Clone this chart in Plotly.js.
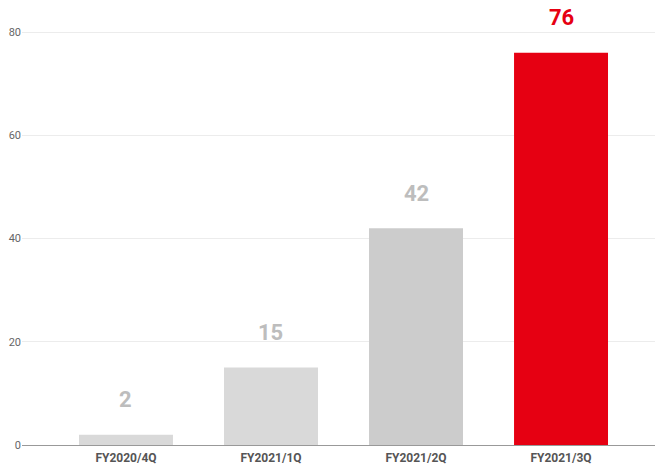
<!DOCTYPE html>
<html>
<head>
<meta charset="utf-8">
<script src="https://cdn.plot.ly/plotly-3.0.1.min.js"></script>
<style>html,body{margin:0;padding:0;background:#fff;}#chart{width:655px;height:464px;}</style>
</head>
<body>
<div id="chart"></div>
<script>
var categories = ["FY2020/4Q", "FY2021/1Q", "FY2021/2Q", "FY2021/3Q"];
var values = [2, 15, 42, 76];
var barColors = ["#d9d9d9", "#d9d9d9", "#cccccc", "#e60012"];
var labelColors = ["#bdbdbd", "#bdbdbd", "#bdbdbd", "#e60012"];
var yTicks = [0, 20, 40, 60, 80];

var trace = {
  type: "bar",
  x: categories,
  y: values,
  marker: {color: barColors, line: {width: 0}},
  hoverinfo: "none"
};

var annotations = categories.map(function(c, i) {
  return {
    x: c, y: values[i], xref: "x", yref: "y",
    text: String(values[i]), showarrow: false,
    yanchor: "middle", yshift: 35,
    font: {family: "Roboto, Arial, sans-serif", size: 22, color: labelColors[i], weight: "bold"}
  };
});

var layout = {
  width: 655, height: 464,
  margin: {l: 22, r: 0, t: 0, b: 19},
  paper_bgcolor: "#ffffff", plot_bgcolor: "#ffffff",
  showlegend: false,
  bargap: 0.352,
  xaxis: {
    type: "category",
    range: [-0.717, 3.648],
    showgrid: false, zeroline: false, showline: false,
    ticks: "",
    ticklabelstandoff: 4,
    tickfont: {family: "Roboto, Arial, sans-serif", size: 12, color: "#555555", weight: "bold"}
  },
  yaxis: {
    range: [0, 86.2],
    tickvals: yTicks,
    ticktext: yTicks.map(String),
    showgrid: true, gridcolor: "#ececec", gridwidth: 1,
    zeroline: true, zerolinecolor: "#999999", zerolinewidth: 1,
    showline: false, ticks: "",
    tickfont: {family: "Roboto, Arial, sans-serif", size: 11, color: "#666666"}
  },
  annotations: annotations
};

Plotly.newPlot("chart", [trace], layout, {displayModeBar: false, staticPlot: true});
</script>
</body>
</html>
